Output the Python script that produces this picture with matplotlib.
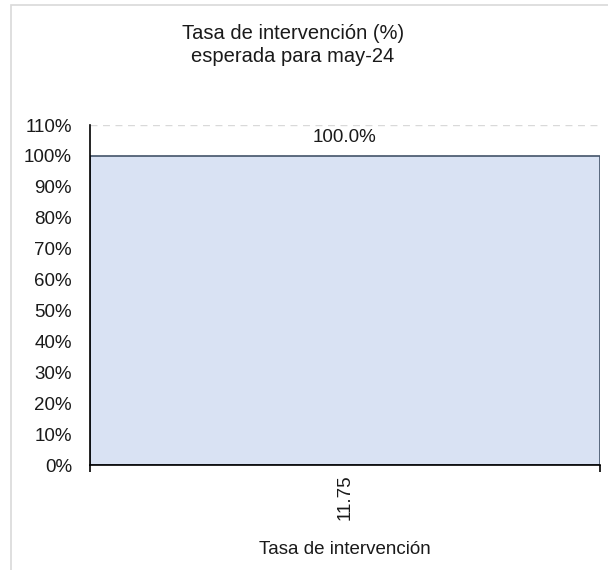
import matplotlib
matplotlib.use("Agg")
import matplotlib.pyplot as plt
from matplotlib.patches import Rectangle
from matplotlib.ticker import FuncFormatter, FixedLocator

categories = ["11.75"]
values = [100.0]
yticks = [0, 10, 20, 30, 40, 50, 60, 70, 80, 90, 100, 110]

plt.rcParams['font.family'] = ['Liberation Sans', 'DejaVu Sans']

fig = plt.figure(figsize=(6.08, 5.70), dpi=100)
fig.patch.set_facecolor('white')
fig.patches.append(Rectangle((11/608, -0.01), 1.0, 1 - 5/570 + 0.01, transform=fig.transFigure,
                             fill=False, edgecolor='#D9D9D9', lw=1.2))

ax = fig.add_axes([90/608, 1 - 465/570, 510/608, 340/570])
x = list(range(len(categories)))
ax.bar(x, values, width=1.0, color='#D9E2F3', edgecolor='#44546A', lw=1.2, zorder=2)
for xi, v in zip(x, values):
    ax.annotate(f"{v:.1f}%", (xi, v), xytext=(0, 7), textcoords='offset points',
                ha='center', va='bottom', fontsize=13.5, color='#1a1a1a')

ax.set_xlim(-0.5, len(categories) - 0.5)
ax.set_ylim(0, 110)
ax.set_yticks(yticks)
ax.yaxis.set_major_formatter(FuncFormatter(lambda v, p: f"{v:.0f}%"))
ax.tick_params(axis='y', length=0, pad=13, labelsize=13.5, labelcolor='#1a1a1a')
ax.set_xticks(x)
ax.set_xticklabels(categories, rotation=90, fontsize=13.5, color='#1a1a1a')
ax.tick_params(axis='x', which='major', length=0, pad=7)
ax.xaxis.set_minor_locator(FixedLocator([-0.5, len(categories) - 0.5]))
ax.tick_params(axis='x', which='minor', length=5, width=1.2, color='black')
ax.grid(axis='y', linestyle=(0, (5, 4)), color='#D9D9D9', lw=1, zorder=0)
ax.set_axisbelow(True)
for s in ['top', 'right']:
    ax.spines[s].set_visible(False)
ax.spines['left'].set_linewidth(1.2)
ax.spines['bottom'].set_linewidth(1.2)
ax.set_xlabel("Tasa de intervención", fontsize=13.5, color='#1a1a1a', labelpad=15)

fig.text(293/608, 1 - 45/570, "Tasa de intervención (%)\nesperada para may-24",
         ha='center', va='center', fontsize=14.5, color='#1a1a1a', linespacing=1.22)

fig.savefig("out.png", dpi=100, facecolor='white')
